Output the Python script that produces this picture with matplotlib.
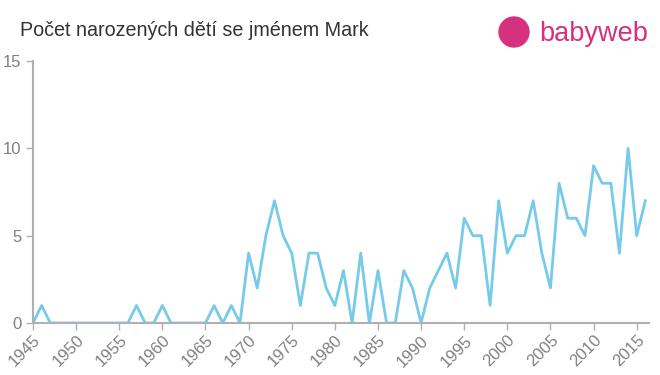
import matplotlib
matplotlib.use("Agg")
import matplotlib.pyplot as plt
from matplotlib.patches import Ellipse

plt.rcParams['font.family'] = ['Liberation Sans', 'DejaVu Sans']

years = list(range(1945, 2017))
values = [0, 1, 0, 0, 0, 0, 0, 0, 0, 0,
          0, 0, 1, 0, 0, 1, 0, 0, 0, 0,
          0, 1, 0, 1, 0, 4, 2, 5, 7, 5,
          4, 1, 4, 4, 2, 1, 3, 0, 4, 0,
          3, 0, 0, 3, 2, 0, 2, 3, 4, 2,
          6, 5, 5, 1, 7, 4, 5, 5, 7, 4,
          2, 8, 6, 6, 5, 9, 8, 8, 4, 10,
          5, 7]
xticks = list(range(1945, 2016, 5))
yticks = [0, 5, 10, 15]
title = "Počet narozených dětí se jménem Mark"

fig = plt.figure(figsize=(6.6, 3.75), dpi=100)
ax = fig.add_axes([0.05, 0.1387, 0.933, 0.6986])
ax.plot(years, values, color="#76cbea", lw=2)
ax.set_xlim(1945, 2016.4)
ax.set_ylim(0, 15)
ax.set_xticks(xticks)
ax.set_yticks(yticks)
ax.set_xticklabels([str(t) for t in xticks], rotation=45, ha="right", rotation_mode="anchor")
for s in ["top", "right"]:
    ax.spines[s].set_visible(False)
for s in ["left", "bottom"]:
    ax.spines[s].set_color("#b0b0b0")
    ax.spines[s].set_linewidth(1.5)
ax.tick_params(axis="both", colors="#b0b0b0", labelcolor="#808080", labelsize=12, length=5, width=1)
ax.tick_params(axis="x", pad=2)

fig.text(20/660, 1 - 31/375, title, fontsize=14.2, color="#333333", va="center", ha="left")
# logo
lc = "#d6317f"
fig.patches.append(Ellipse((514/660, 1 - 32/375), 30/660, 30/375, transform=fig.transFigure, color=lc, zorder=5))
fig.text(539/660, 1 - 34/375, "babyweb", fontsize=19.5, color=lc, va="center", ha="left")

fig.savefig("out.png", dpi=100)
